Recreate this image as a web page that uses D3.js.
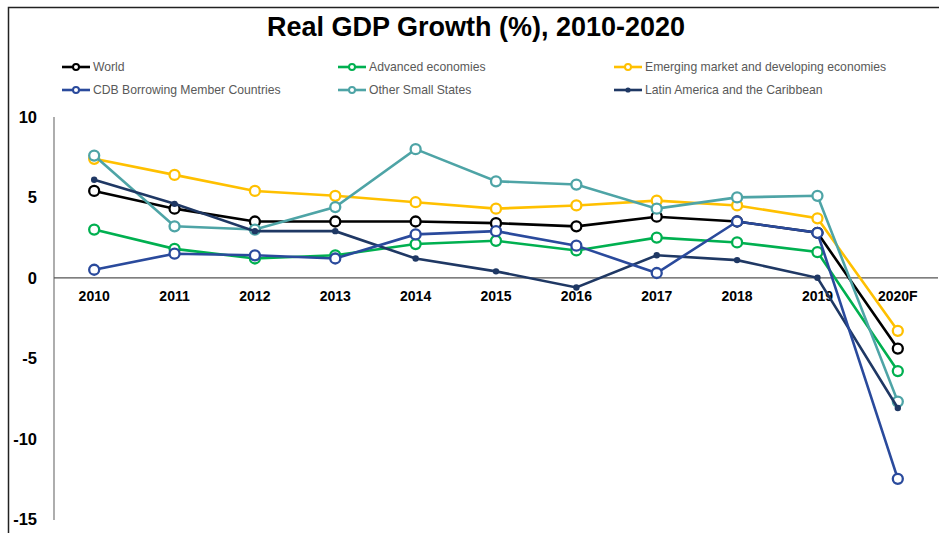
<!DOCTYPE html>
<html>
<head>
<meta charset="utf-8">
<script src="https://cdn.jsdelivr.net/npm/d3@7"></script>
<style>
  body { margin: 0; background: #fff; }
  text { font-family: "Liberation Sans", Arial, sans-serif; }
</style>
</head>
<body>
<script>
// categories
let years = ["2010","2011","2012","2013","2014","2015","2016","2017","2018","2019","2020F"];

// series values (% real GDP growth)
let world        = [5.4, 4.3, 3.5, 3.5, 3.5, 3.4, 3.2, 3.8, 3.5, 2.8, -4.4];
let advanced     = [3.0, 1.8, 1.2, 1.4, 2.1, 2.3, 1.7, 2.5, 2.2, 1.6, -5.8];
let emerging     = [7.4, 6.4, 5.4, 5.1, 4.7, 4.3, 4.5, 4.8, 4.5, 3.7, -3.3];
let cdb          = [0.5, 1.5, 1.4, 1.2, 2.7, 2.9, 2.0, 0.3, 3.5, 2.8, -12.5];
let smallStates  = [7.6, 3.2, 3.0, 4.4, 8.0, 6.0, 5.8, 4.3, 5.0, 5.1, -7.7];
let latam        = [6.1, 4.6, 2.9, 2.9, 1.2, 0.4, -0.6, 1.4, 1.1, 0.0, -8.1];

let yTicks = [10, 5, 0, -5, -10, -15];

let width = 939, height = 533;

let svg = d3.select("body").append("svg")
    .attr("width", width)
    .attr("height", height);

// frame (top + left)
svg.append("path")
    .attr("d", "M8.5,533 L8.5,7.5 L939,7.5")
    .attr("fill", "none")
    .attr("stroke", "#222")
    .attr("stroke-width", 1.5);

// title
svg.append("text")
    .attr("x", 476)
    .attr("y", 36)
    .attr("text-anchor", "middle")
    .style("font-size", "27px")
    .style("font-weight", "bold")
    .attr("fill", "#000")
    .text("Real GDP Growth (%), 2010-2020");

let x = d3.scaleBand().domain(years).range([54, 938]);
let y = d3.scaleLinear().domain([-15, 10]).range([519, 117]);

let cx = d => x(d) + x.bandwidth() / 2;

// series list (draw order)
let series = [
    { name: "Emerging market and developing economies", values: emerging, color: "#ffc000", marker: "open" },
    { name: "World", values: world, color: "#000000", marker: "open" },
    { name: "Advanced economies", values: advanced, color: "#00b050", marker: "open" },
    { name: "Other Small States", values: smallStates, color: "#4ea4a6", marker: "open" },
    { name: "Latin America and the Caribbean", values: latam, color: "#1f3864", marker: "dot" },
    { name: "CDB Borrowing Member Countries", values: cdb, color: "#2a4a9c", marker: "open" }
];

// y axis line
svg.append("line")
    .attr("x1", 54).attr("x2", 54)
    .attr("y1", y(10)).attr("y2", y(-15) + 1)
    .attr("stroke", "#777").attr("stroke-width", 1.2);

// zero line
svg.append("line")
    .attr("x1", 54).attr("x2", 938)
    .attr("y1", y(0)).attr("y2", y(0))
    .attr("stroke", "#555").attr("stroke-width", 1.2);

// y tick labels
svg.selectAll(".ytick")
    .data(yTicks)
    .enter().append("text")
    .attr("class", "ytick")
    .attr("x", 37)
    .attr("y", d => y(d))
    .attr("dy", "0.36em")
    .attr("text-anchor", "end")
    .style("font-size", "16.5px")
    .style("font-weight", "bold")
    .attr("fill", "#000")
    .text(d => d);

// x tick labels
svg.selectAll(".xtick")
    .data(years)
    .enter().append("text")
    .attr("class", "xtick")
    .attr("x", d => cx(d))
    .attr("y", 301)
    .attr("text-anchor", "middle")
    .style("font-size", "14px")
    .style("font-weight", "bold")
    .attr("fill", "#000")
    .text(d => d);

let line = d3.line()
    .x((d, i) => cx(years[i]))
    .y(d => y(d));

series.forEach(function(s) {
    let g = svg.append("g");
    g.append("path")
        .datum(s.values)
        .attr("d", line)
        .attr("fill", "none")
        .attr("stroke", s.color)
        .attr("stroke-width", 2.6);
    if (s.marker === "open") {
        g.selectAll("circle")
            .data(s.values)
            .enter().append("circle")
            .attr("cx", (d, i) => cx(years[i]))
            .attr("cy", d => y(d))
            .attr("r", 5)
            .attr("fill", "#fff")
            .attr("stroke", s.color)
            .attr("stroke-width", 2.3);
    } else {
        g.selectAll("circle")
            .data(s.values)
            .enter().append("circle")
            .attr("cx", (d, i) => cx(years[i]))
            .attr("cy", d => y(d))
            .attr("r", 3.2)
            .attr("fill", s.color);
    }
});

// legend
let legendItems = [
    { s: series[1], x: 62, y: 67 },
    { s: series[2], x: 338, y: 67 },
    { s: series[0], x: 614, y: 67 },
    { s: series[5], x: 62, y: 90 },
    { s: series[3], x: 338, y: 90 },
    { s: series[4], x: 614, y: 90 }
];

let leg = svg.selectAll(".legend")
    .data(legendItems)
    .enter().append("g")
    .attr("class", "legend")
    .attr("transform", d => "translate(" + d.x + "," + d.y + ")");

leg.append("line")
    .attr("x1", 0).attr("x2", 28)
    .attr("stroke", d => d.s.color)
    .attr("stroke-width", 2.6);

leg.append("circle")
    .attr("cx", 14)
    .attr("r", d => d.s.marker === "open" ? 3 : 2.6)
    .attr("fill", d => d.s.marker === "open" ? "#fff" : d.s.color)
    .attr("stroke", d => d.s.color)
    .attr("stroke-width", d => d.s.marker === "open" ? 2 : 0);

leg.append("text")
    .attr("x", 31)
    .attr("dy", "0.35em")
    .style("font-size", "12.2px")
    .attr("fill", "#595959")
    .text(d => d.s.name);
</script>
</body>
</html>
